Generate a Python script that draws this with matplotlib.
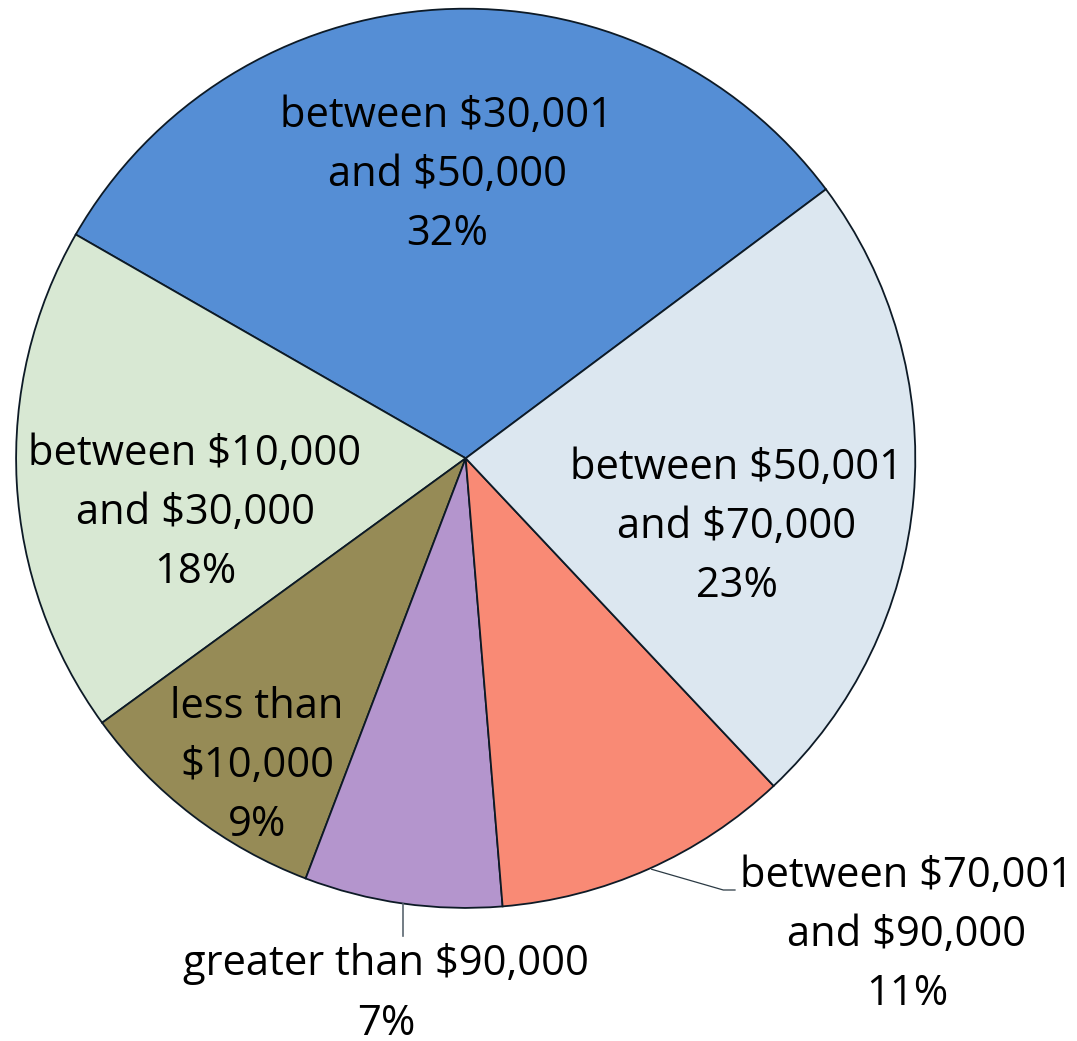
import matplotlib
matplotlib.use("Agg")
import matplotlib.pyplot as plt
import numpy as np

categories = [
    "between $30,001\nand $50,000",
    "between $10,000\nand $30,000",
    "less than\n$10,000",
    "greater than $90,000",
    "between $70,001\nand $90,000",
    "between $50,001\nand $70,000",
]
values = [31.5, 18.3, 9.2, 7.1, 10.7, 23.2]
colors = ["#558ED5", "#D8E8D3", "#968B56", "#B495CD", "#F98A75", "#DCE7F0"]

plt.rcParams['font.family'] = ['Open Sans', 'DejaVu Sans']

W, H = 1077, 1041
fig = plt.figure(figsize=(W / 100, H / 100), dpi=100)
cx, cy, R = 465.7, 458.3, 449.6
ax = fig.add_axes([(cx - R) / W, (H - cy - R) / H, 2 * R / W, 2 * R / H])

wedges, _ = ax.pie(values, colors=colors, startangle=36.75, counterclock=True,
                   radius=1, center=(0, 0),
                   wedgeprops=dict(edgecolor='#0d1a26', linewidth=1.3))
ax.set_xlim(-1, 1)
ax.set_ylim(-1, 1)
ax.set_aspect('equal')
ax.axis('off')

def px(x, y):
    return ((x - cx) / R, (cy - y) / R)

# label positions in pixel space (layout only)
label_pos = [(447, 175), (195, 513), (257, 766), (386, 994), (907, 935), (737, 527)]
fs = 30
for cat, v, (lx, ly) in zip(categories, values, label_pos):
    x, y = px(lx, ly)
    ax.text(x, y, f"{cat}\n{round(v):d}%", ha='center', va='center',
            fontsize=fs, linespacing=1.54, color='black', clip_on=False)

# leader lines
x0, y0 = px(651.7, 869.3)
x1, y1 = px(723.3, 890)
x2, y2 = px(735, 890)
ax.plot([x0, x1, x2], [y0, y1, y2], color='#2b3a44', lw=0.9, clip_on=False)
xa, ya = px(402.7, 904)
xb, yb = px(402.7, 936)
ax.plot([xa, xb], [ya, yb], color='#5a6670', lw=1.2, clip_on=False)

fig.savefig("out.png", dpi=100)
